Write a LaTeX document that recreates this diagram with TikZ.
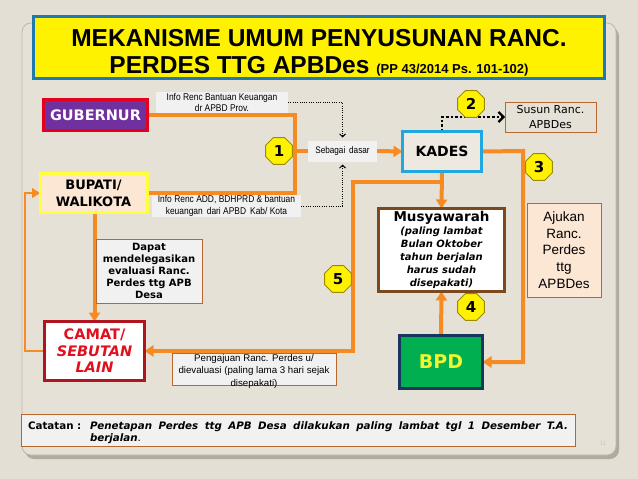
\documentclass[tikz,border=0pt]{standalone}
\usepackage{fontspec}
\setmainfont{Liberation Sans}
\newfontfamily\heavy{DejaVu Sans}
\newfontfamily\verd{DejaVu Sans}
\newfontfamily\narrowf[FakeStretch=0.86]{Liberation Sans}
\usetikzlibrary{shapes.geometric,arrows.meta}
\definecolor{bgc}{HTML}{E4DFD5}
\definecolor{cardc}{HTML}{E6E1D7}
\definecolor{cardb}{HTML}{BDB7AC}
\definecolor{shadc}{HTML}{B0AA9F}
\definecolor{orng}{HTML}{F58B22}
\definecolor{titleb}{HTML}{2078B0}
\definecolor{purp}{HTML}{7030A0}
\definecolor{redb}{HTML}{E3001B}
\definecolor{peach}{HTML}{FCE6D4}
\definecolor{yelb}{HTML}{FFFF3C}
\definecolor{kadesf}{HTML}{EEE9E0}
\definecolor{kadesb}{HTML}{1EA7E1}
\definecolor{brownb}{HTML}{7A4A1E}
\definecolor{greenf}{HTML}{00B050}
\definecolor{navyb}{HTML}{17365D}
\definecolor{darkred}{HTML}{B0141E}
\definecolor{redt}{HTML}{E0101E}
\definecolor{lblc}{HTML}{F1F1F1}
\definecolor{thinb}{HTML}{B8682E}
\definecolor{octb}{HTML}{9C8A00}
\definecolor{bpdt}{HTML}{F2F530}
\definecolor{pgnum}{HTML}{C9C3B8}
\pgfdeclarelayer{back}
\pgfdeclarelayer{lines}
\pgfsetlayers{back,lines,main}
\begin{document}
\begin{tikzpicture}[x=1pt,y=-1pt,
  every node/.style={inner sep=0pt,outer sep=0pt,align=center},
  ol/.style={draw=orng,line width=4pt},
  ola/.style={ol,-{Triangle[length=9pt,width=11pt]}},
  thinarr/.style={draw=orng,line width=1.3pt,-{Triangle[length=8pt,width=10pt]}},
  dotarr/.style={draw=black,line width=0.9pt,dash pattern=on 1pt off 1.3pt,-{Straight Barb[length=3pt,width=6pt]}},
  thickdot/.style={draw=black,line width=2.6pt,dash pattern=on 2.6pt off 2pt,-{Straight Barb[length=5pt,width=10pt,line width=2.2pt]}},
  oct/.style={regular polygon,regular polygon sides=8,minimum size=29pt,fill=yellow,draw=octb,line width=0.8pt,font=\heavy\bfseries\fontsize{15}{15}\selectfont},
  lbl/.style={fill=lblc,font=\narrowf\fontsize{9.8}{11.8}\selectfont},
  thinbox/.style={draw=thinb,line width=0.9pt},
  bigbox/.style={line width=3pt}]
\begin{pgfonlayer}{back}
\fill[bgc] (0,0) rectangle (638,479);
\fill[shadc,rounded corners=9pt] (25,27) rectangle (619,459);
\draw[fill=cardc,draw=cardb,line width=0.8pt,rounded corners=9pt] (22,23) rectangle (616,455);
\end{pgfonlayer}
\useasboundingbox (0,0) rectangle (638,479);

% title
\node[bigbox,draw=titleb,fill=yellow,minimum width=571,minimum height=62,
  font=\bfseries\fontsize{24.5}{27}\selectfont] (title) at (319,47.5)
  {\rule{0pt}{27pt}MEKANISME UMUM PENYUSUNAN RANC.\\PERDES TTG APBDes {\fontsize{13}{13}\selectfont(PP 43/2014 Ps. 101-102)}};

% main boxes
\node[bigbox,draw=redb,fill=purp,text=white,minimum width=104,minimum height=31,
  font=\heavy\bfseries\fontsize{14.5}{15}\selectfont] (gub) at (95.5,115) {GUBERNUR};
\node[bigbox,draw=yelb,fill=peach,minimum width=107,minimum height=39,
  font=\heavy\bfseries\fontsize{13}{17}\selectfont] (bup) at (93.5,193) {BUPATI/\\WALIKOTA};
\node[bigbox,draw=kadesb,fill=kadesf,minimum width=79,minimum height=40,
  font=\heavy\bfseries\fontsize{14}{15}\selectfont] (kades) at (442,151.5) {KADES};
\node[bigbox,draw=brownb,fill=white,minimum width=126,minimum height=83,
  font=\heavy\bfseries\itshape\fontsize{10}{13}\selectfont] (musy) at (441.5,250)
  {{\upshape\fontsize{13.5}{15}\selectfont Musyawarah}\\(paling lambat\\Bulan Oktober\\tahun berjalan\\harus sudah\\disepakati)};
\node[bigbox,draw=navyb,fill=greenf,text=bpdt,minimum width=83,minimum height=53,
  font=\heavy\bfseries\fontsize{19}{20}\selectfont] (bpd) at (441,362) {BPD};
\node[bigbox,draw=darkred,fill=white,text=redt,minimum width=100,minimum height=59,
  font=\heavy\bfseries\fontsize{14.5}{16.5}\selectfont] (camat) at (94.5,351)
  {CAMAT/\\{\itshape SEBUTAN}\\{\itshape LAIN}};

% labels
\node[lbl,minimum width=132,minimum height=21] (info1) at (222,102.5)
  {Info Renc Bantuan Keuangan\\dr APBD Prov.};
\node[lbl,minimum width=149,minimum height=22] (info2) at (226.5,206)
  {Info Renc ADD, BDHPRD \& bantuan\\keuangan\, dari APBD\, Kab/ Kota};
\node[lbl,minimum width=69,minimum height=21,font=\narrowf\fontsize{9.5}{10}\selectfont] (seb) at (342.5,151)
  {Sebagai\, dasar};
\node[thinbox,minimum width=91,minimum height=30,font=\verd\fontsize{11}{14.5}\selectfont] (susun) at (550.5,117)
  {Susun Ranc.\\APBDes};
\node[thinbox,fill=peach,minimum width=74,minimum height=94,font=\fontsize{13.5}{16.7}\selectfont] (ajukan) at (564,250)
  {Ajukan\\Ranc.\\Perdes\\ttg\\APBDes};
\node[thinbox,fill=lblc,minimum width=106,minimum height=64,font=\heavy\bfseries\fontsize{10}{12}\selectfont] (dapat) at (149,271)
  {Dapat\\mendelegasikan\\evaluasi Ranc.\\Perdes ttg APB\\Desa};
\node[thinbox,fill=lblc,minimum width=164,minimum height=32] (peng) at (254,369) {};
\node[font=\fontsize{9.7}{12.5}\selectfont] (pengtxt) at (254,371)
  {Pengajuan Ranc. Perdes u/\\dievaluasi (paling lama 3 hari sejak\\disepakati)};

% catatan
\node[thinbox,fill=lblc,minimum width=554,minimum height=32] (cat) at (298,430) {};
\node[anchor=base west,font=\heavy\bfseries\fontsize{10.3}{12}\selectfont] (catlbl) at (28,429) {Catatan :};
\node[anchor=base west,font=\heavy\bfseries\itshape\fontsize{10.3}{12}\selectfont] (cat1) at (90,429)
  {\makebox[478pt][s]{Penetapan Perdes ttg APB Desa dilakukan paling lambat tgl 1 Desember T.A.}};
\node[anchor=base west,font=\heavy\bfseries\itshape\fontsize{10.3}{12}\selectfont] (cat2) at (90,441)
  {berjalan{\upshape\mdseries .}};
\node[font=\fontsize{6}{7}\selectfont,text=pgnum] (pg) at (603,443) {11};

% octagons
\node[oct] (o1) at (279,151) {1};
\node[oct] (o2) at (471,104) {2};
\node[oct] (o3) at (539,167) {3};
\node[oct] (o4) at (471,307) {4};
\node[oct] (o5) at (338,279) {5};

% connectors
\coordinate (jv) at (295,151);
\coordinate (kb) at (442,182);
\coordinate (kl) at (353,182);
\coordinate (kr) at (523,151);
\coordinate (lc) at (25,351);
\begin{pgfonlayer}{lines}
\draw[ol] (gub.east) -| (jv) |- (bup.east);
\draw[ol] (jv) -- (seb.west);
\draw[ola] (seb.east) -- (kades.west);
\draw[dotarr,shorten >=3pt] (info1.east) -| (seb.north);
\draw[dotarr,shorten >=3pt] (info2.east) -| (seb.south);
\draw[thickdot] (kades.north) |- (susun.west);
\draw[ola] (kades.south) -- (musy.north);
\draw[ola] (kb) -- (kl) |- (camat.east);
\draw[ola] (kades.east) -- (kr) |- (bpd.east);
\draw[ola] (bpd.north) -- (musy.south);
\draw[ola] (bup.south -| camat.north) -- (camat.north);
\draw[thinarr] (camat.west) -- (lc) |- (bup.west);
\end{pgfonlayer}
\end{tikzpicture}
\end{document}
